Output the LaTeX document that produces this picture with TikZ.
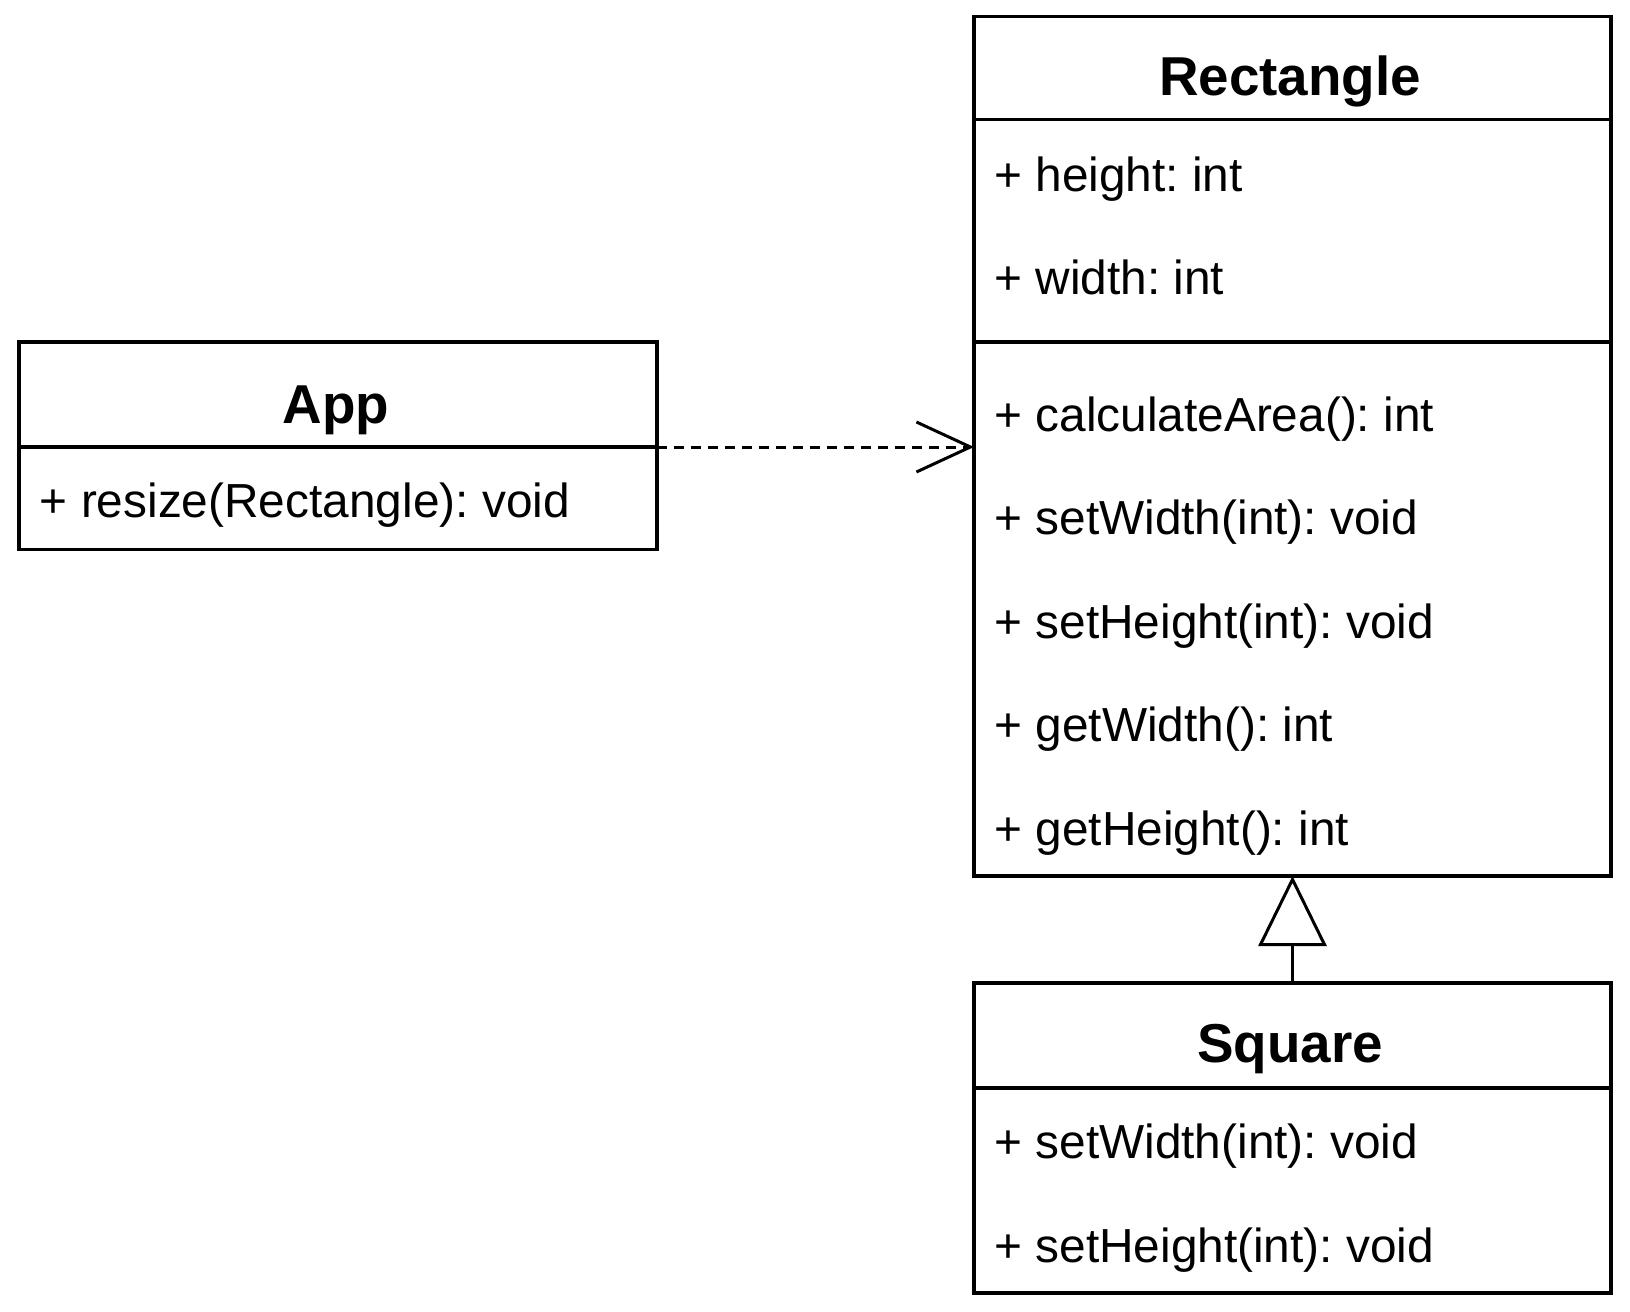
\documentclass[tikz,border=0pt]{standalone}
\usepackage{fontspec}
\setmainfont{Liberation Sans}
\usetikzlibrary{arrows.meta}
\frenchspacing
\begin{document}
\begin{tikzpicture}[x=0.5pt,y=-0.5pt,
  box/.style={draw=black, line width=1.6pt, inner sep=0pt, outer sep=0pt, minimum width=318.5pt},
  title/.style={anchor=base, inner sep=0pt, font=\fontsize{27.4pt}{30pt}\selectfont\bfseries},
  member/.style={anchor=base west, inner sep=0pt, font=\fontsize{23.9pt}{28pt}\selectfont},
  conn/.style={line width=1.5pt, draw=black},
]
\useasboundingbox (0,0) rectangle (1630,1312);
% App
\node[box, minimum width=319pt, minimum height=52.5pt] (apphead) at (338,394.5) {};
\node[box, minimum width=319pt, minimum height=51pt] (appbody) at (338,498.5) {};
\node[title] (apptitle) at (336,423) {App};
\node[member] (appm1) at (39.5,517) {+ resize(Rectangle): void};
% Rectangle
\node[box, minimum height=51.5pt] (rhead) at (1292.5,68) {};
\node[box, minimum height=111.25pt] (rattr) at (1292.5,230.75) {};
\node[box, minimum height=267pt] (rops) at (1292.5,609) {};
\node[title] (rtitle) at (1290,95) {Rectangle};
\node[member] (ra1) at (994,191) {+ height: int};
\node[member] (ra2) at (994,294) {+ width: int};
\node[member] (ro1) at (994,431) {+ calculateArea(): int};
\node[member] (ro2) at (994,534) {+ setWidth(int): void};
\node[member] (ro3) at (994,638) {+ setHeight(int): void};
\node[member] (ro4) at (994,741) {+ getWidth(): int};
\node[member] (ro5) at (994,845) {+ getHeight(): int};
% Square
\node[box, minimum height=52.5pt] (sqhead) at (1292.5,1035.5) {};
\node[box, minimum height=102.5pt] (sqbody) at (1292.5,1190.5) {};
\node[title] (sqtitle) at (1290,1062) {Square};
\node[member] (sq1) at (994,1158) {+ setWidth(int): void};
\node[member] (sq2) at (994,1262) {+ setHeight(int): void};
% connectors
\draw[conn, dash pattern=on 5pt off 3.5pt, -{Straight Barb[length=27pt,width=25pt]}]
  (apphead.south east) -- (apphead.south east -| rops.west);
\draw[conn, -{Triangle[open,length=35pt,width=34pt]}] (sqhead.north) -- (rops.south);
\end{tikzpicture}
\end{document}
